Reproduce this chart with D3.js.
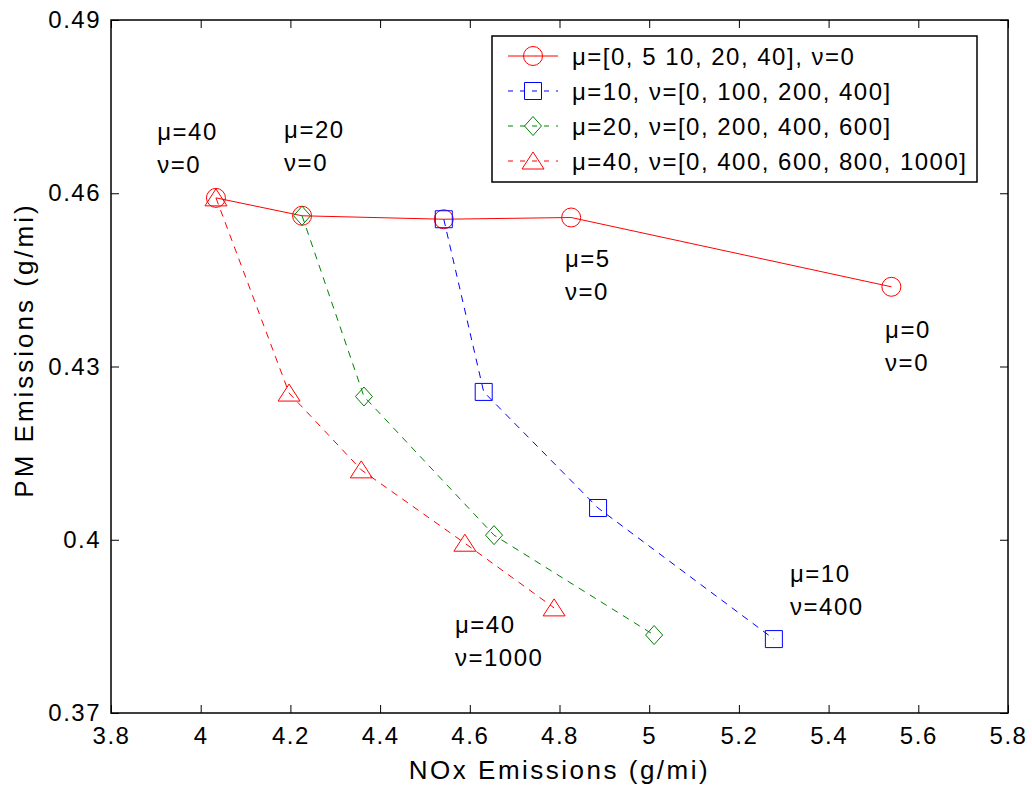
<!DOCTYPE html>
<html>
<head>
<meta charset="utf-8">
<script src="https://cdn.jsdelivr.net/npm/d3@7"></script>
<style>
  body { margin: 0; background: #fff; }
  text { font-family: "Liberation Sans", Arial, sans-serif; fill: #000; }
</style>
</head>
<body>
<div id="chart"></div>
<script>
// data (NOx g/mi, PM g/mi)
var muNox   = [5.54, 4.826, 4.542, 4.226, 4.034];
var muPm    = [0.4438, 0.4558, 0.4555, 0.4561, 0.4592];
var mu10Nox = [4.542, 4.631, 4.886, 5.278];
var mu10Pm  = [0.4555, 0.4256, 0.4055, 0.3828];
var mu20Nox = [4.226, 4.364, 4.654, 5.011];
var mu20Pm  = [0.4561, 0.4248, 0.4008, 0.3835];
var mu40Nox = [4.034, 4.197, 4.358, 4.589, 4.788];
var mu40Pm  = [0.4592, 0.4254, 0.4121, 0.3994, 0.3882];

var legendLabels = [
  "\u03bc=[0, 5 10, 20, 40], \u03bd=0",
  "\u03bc=10, \u03bd=[0, 100, 200, 400]",
  "\u03bc=20, \u03bd=[0, 200, 400, 600]",
  "\u03bc=40, \u03bd=[0, 400, 600, 800, 1000]"
];

var xTicks = [3.8, 4, 4.2, 4.4, 4.6, 4.8, 5, 5.2, 5.4, 5.6, 5.8];
var xTickLabels = ["3.8", "4", "4.2", "4.4", "4.6", "4.8", "5", "5.2", "5.4", "5.6", "5.8"];
var yTicks = [0.37, 0.40, 0.43, 0.46, 0.49];
var yTickLabels = ["0.37", "0.4", "0.43", "0.46", "0.49"];

// annotation text, anchored in data units
var notes = [
  { x: 3.903, y: 0.4692, lines: ["\u03bc=40", "\u03bd=0"] },
  { x: 4.186, y: 0.4696, lines: ["\u03bc=20", "\u03bd=0"] },
  { x: 4.812, y: 0.4472, lines: ["\u03bc=5", "\u03bd=0"] },
  { x: 5.526, y: 0.4349, lines: ["\u03bc=0", "\u03bd=0"] },
  { x: 5.314, y: 0.3927, lines: ["\u03bc=10", "\u03bd=400"] },
  { x: 4.567, y: 0.3839, lines: ["\u03bc=40", "\u03bd=1000"] }
];

var width = 1032, height = 798;
var margin = { left: 111, right: 24, top: 20, bottom: 85 };

var svg = d3.select("#chart").append("svg")
  .attr("width", width)
  .attr("height", height);

var x = d3.scaleLinear().domain([3.8, 5.8]).range([margin.left, width - margin.right]);
var y = d3.scaleLinear().domain([0.37, 0.49]).range([height - margin.bottom, margin.top]);

var series = [
  { nox: muNox,   pm: muPm,   color: "#ff0000", dash: null,  marker: "circle" },
  { nox: mu10Nox, pm: mu10Pm, color: "#0000ff", dash: "7,6", marker: "square" },
  { nox: mu20Nox, pm: mu20Pm, color: "#008000", dash: "7,6", marker: "diamond" },
  { nox: mu40Nox, pm: mu40Pm, color: "#ff0000", dash: "7,6", marker: "triangle" }
];

function markerPath(type) {
  if (type == "circle") return "M-9.5,0A9.5,9.5 0 1,0 9.5,0A9.5,9.5 0 1,0 -9.5,0Z";
  if (type == "square") return "M-8.5,-8.5H8.5V8.5H-8.5Z";
  if (type == "diamond") return "M0,-9.5L8.5,0L0,9.5L-8.5,0Z";
  return "M0,-9L11,8H-11Z";
}

// ticks, inward on all four sides
var ax = svg.append("g").attr("class", "axes");
ax.append("g")
  .attr("transform", "translate(0," + y.range()[0] + ")")
  .call(d3.axisBottom(x).tickValues(xTicks).tickSizeInner(-8).tickSizeOuter(0)
    .tickPadding(14).tickFormat(function(d, i) { return xTickLabels[i]; }));
ax.append("g")
  .attr("transform", "translate(0," + y.range()[1] + ")")
  .call(d3.axisTop(x).tickValues(xTicks).tickSizeInner(-8).tickSizeOuter(0).tickFormat(""));
ax.append("g")
  .attr("transform", "translate(" + x.range()[0] + ",0)")
  .call(d3.axisLeft(y).tickValues(yTicks).tickSizeInner(-8).tickSizeOuter(0)
    .tickPadding(10).tickFormat(function(d, i) { return yTickLabels[i]; }));
ax.append("g")
  .attr("transform", "translate(" + x.range()[1] + ",0)")
  .call(d3.axisRight(y).tickValues(yTicks).tickSizeInner(-8).tickSizeOuter(0).tickFormat(""));

ax.selectAll(".domain").remove();
ax.selectAll(".tick line").attr("stroke", "#000").attr("stroke-width", 1);
ax.selectAll(".tick text")
  .attr("font-size", 24)
  .attr("letter-spacing", 1.5)
  .attr("fill", "#000")
  .style("font-family", "'Liberation Sans', Arial, sans-serif");

svg.append("rect")
  .attr("x", x.range()[0])
  .attr("y", y.range()[1])
  .attr("width", x.range()[1] - x.range()[0])
  .attr("height", y.range()[0] - y.range()[1])
  .attr("fill", "none")
  .attr("stroke", "#000")
  .attr("stroke-width", 1.5);

// axis labels
svg.append("text")
  .attr("x", (x.range()[0] + x.range()[1]) / 2)
  .attr("y", 779)
  .attr("text-anchor", "middle")
  .attr("font-size", 26)
  .attr("letter-spacing", 2.5)
  .text("NOx Emissions (g/mi)");

svg.append("text")
  .attr("transform", "translate(33,350) rotate(-90)")
  .attr("text-anchor", "middle")
  .attr("font-size", 26)
  .attr("letter-spacing", 3)
  .text("PM Emissions (g/mi)");

// lines and markers
var line = d3.line()
  .x(function(d) { return x(d[0]); })
  .y(function(d) { return y(d[1]); });

series.forEach(function(s) {
  var pts = d3.zip(s.nox, s.pm);
  svg.append("path")
    .attr("d", line(pts))
    .attr("fill", "none")
    .attr("stroke", s.color)
    .attr("stroke-width", 1)
    .attr("stroke-dasharray", s.dash);
  svg.selectAll(null)
    .data(pts)
    .enter().append("path")
    .attr("d", markerPath(s.marker))
    .attr("transform", function(d) { return "translate(" + x(d[0]) + "," + y(d[1]) + ")"; })
    .attr("fill", "none")
    .attr("stroke", s.color)
    .attr("stroke-width", 1);
});

// annotations
notes.forEach(function(n) {
  n.lines.forEach(function(t, i) {
    svg.append("text")
      .attr("x", x(n.x))
      .attr("y", y(n.y) + i * 33)
      .attr("font-size", 24)
      .attr("letter-spacing", 1.5)
      .text(t);
  });
});

// legend
var lg = svg.append("g").attr("transform", "translate(492,36)");
lg.append("rect")
  .attr("width", 485)
  .attr("height", 146)
  .attr("fill", "#fff")
  .attr("stroke", "#000")
  .attr("stroke-width", 1.5);

var rows = lg.selectAll(".row")
  .data(series)
  .enter().append("g")
  .attr("transform", function(d, i) { return "translate(0," + (20 + i * 35) + ")"; });

rows.append("line")
  .attr("x1", 16).attr("x2", 66)
  .attr("stroke", function(d) { return d.color; })
  .attr("stroke-width", 1)
  .attr("stroke-dasharray", function(d) { return d.dash ? "5,7" : null; });
rows.append("path")
  .attr("d", function(d) { return markerPath(d.marker); })
  .attr("transform", "translate(41,0)")
  .attr("fill", "none")
  .attr("stroke", function(d) { return d.color; });
rows.append("text")
  .attr("x", 80)
  .attr("y", 9)
  .attr("font-size", 24)
  .attr("letter-spacing", 1.5)
  .text(function(d, i) { return legendLabels[i]; });
</script>
</body>
</html>
